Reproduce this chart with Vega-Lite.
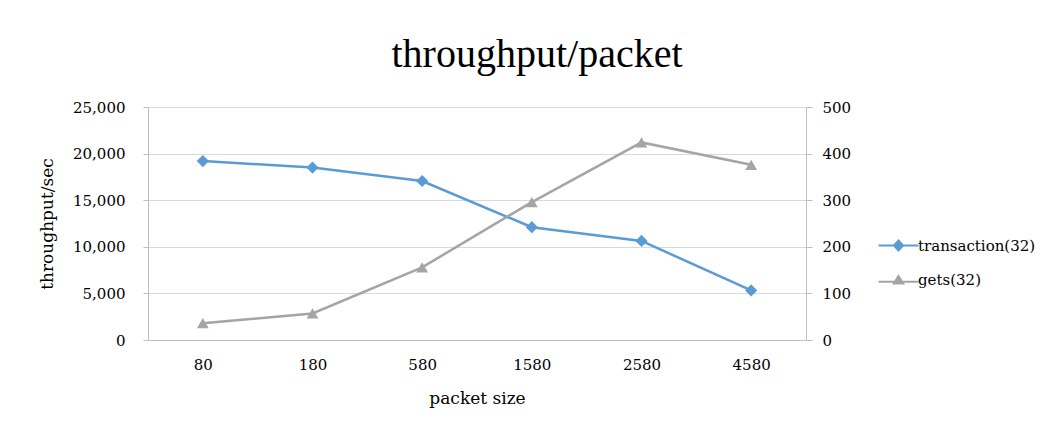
{
  "$schema": "https://vega.github.io/schema/vega-lite/v6.json",
  "width": 658,
  "height": 233,
  "autosize": "none",
  "padding": {"left": 148, "top": 107, "right": 250, "bottom": 95},
  "background": "white",
  "title": {
    "text": "throughput/packet",
    "font": "Liberation Serif",
    "fontSize": 40,
    "fontWeight": "normal",
    "color": "#000000",
    "anchor": "middle",
    "dx": 60,
    "offset": 25
  },
  "data": {
    "values": [
      {"size": "80", "series": "transaction(32)", "value": 19200},
      {"size": "180", "series": "transaction(32)", "value": 18500},
      {"size": "580", "series": "transaction(32)", "value": 17060},
      {"size": "1580", "series": "transaction(32)", "value": 12100},
      {"size": "2580", "series": "transaction(32)", "value": 10630},
      {"size": "4580", "series": "transaction(32)", "value": 5320},
      {"size": "80", "series": "gets(32)", "value": 36},
      {"size": "180", "series": "gets(32)", "value": 57},
      {"size": "580", "series": "gets(32)", "value": 156},
      {"size": "1580", "series": "gets(32)", "value": 296},
      {"size": "2580", "series": "gets(32)", "value": 424},
      {"size": "4580", "series": "gets(32)", "value": 376}
    ]
  },
  "encoding": {
    "x": {
      "field": "size",
      "type": "ordinal",
      "sort": null,
      "scale": {"type": "point", "padding": 0.5},
      "axis": {
        "title": "packet size",
        "labelAngle": 0,
        "ticks": false,
        "grid": false,
        "domainColor": "#bfbfbf",
        "labelPadding": 17,
        "titlePadding": 18
      }
    },
    "color": {
      "field": "series",
      "type": "nominal",
      "scale": {"domain": ["transaction(32)", "gets(32)"], "range": ["#5b9bd5", "#a5a5a5"]},
      "legend": {
        "title": null,
        "orient": "none",
        "legendX": 743,
        "legendY": 131,
        "labelOffset": 12,
        "encode": {"symbols": {"update": {"stroke": {"scale": "color", "field": "value"}, "strokeWidth": {"value": 2}}}}
      }
    },
    "shape": {
      "field": "series",
      "type": "nominal",
      "scale": {
        "domain": ["transaction(32)", "gets(32)"],
        "range": ["M-4.2,0L4.2,0M0,-1.05L0.95,0L0,1.05L-0.95,0Z", "M-4.2,0.45L4.2,0.45M0,-0.75L1,0.85L-1,0.85Z"]
      },
      "legend": {"title": null, "orient": "none", "legendX": 743, "legendY": 131, "labelOffset": 12}
    }
  },
  "layer": [
    {
      "transform": [{"filter": "datum.series === 'transaction(32)'"}],
      "encoding": {
        "y": {
          "field": "value",
          "type": "quantitative",
          "scale": {"domain": [0, 25000]},
          "axis": {
            "title": "throughput/sec",
            "orient": "left",
            "values": [0, 5000, 10000, 15000, 20000, 25000],
            "labelExpr": "format(datum.value, ',')",
            "labelOverlap": false,
            "grid": true,
            "gridColor": "#d9d9d9",
            "domainColor": "#bfbfbf",
            "tickColor": "#bfbfbf",
            "tickSize": 5,
            "labelPadding": 18,
            "titlePadding": 16
          }
        }
      },
      "layer": [
        {"mark": {"type": "line", "strokeWidth": 2.5}},
        {"mark": {"type": "point", "filled": true, "size": 150, "opacity": 1}, "encoding": {"shape": {"value": "diamond"}}}
      ]
    },
    {
      "transform": [{"filter": "datum.series === 'gets(32)'"}],
      "encoding": {
        "y": {
          "field": "value",
          "type": "quantitative",
          "scale": {"domain": [0, 500]},
          "axis": {
            "title": null,
            "orient": "right",
            "values": [0, 100, 200, 300, 400, 500],
            "labelOverlap": false,
            "grid": false,
            "domainColor": "#bfbfbf",
            "tickColor": "#bfbfbf",
            "tickSize": 6,
            "labelPadding": 10
          }
        }
      },
      "layer": [
        {"mark": {"type": "line", "strokeWidth": 2.5}},
        {"mark": {"type": "point", "filled": true, "size": 140, "opacity": 1}, "encoding": {"shape": {"value": "triangle-up"}}}
      ]
    }
  ],
  "resolve": {"scale": {"y": "independent"}},
  "config": {
    "view": {"stroke": null},
    "axis": {
      "labelFont": "DejaVu Serif",
      "labelFontSize": 15,
      "labelColor": "#000000",
      "titleFont": "DejaVu Serif",
      "titleFontSize": 17,
      "titleFontWeight": "normal",
      "titleColor": "#000000"
    },
    "legend": {
      "labelFont": "DejaVu Serif",
      "labelFontSize": 15,
      "labelColor": "#000000",
      "symbolSize": 90,
      "rowPadding": 16,
      "labelLimit": 200
    }
  }
}
